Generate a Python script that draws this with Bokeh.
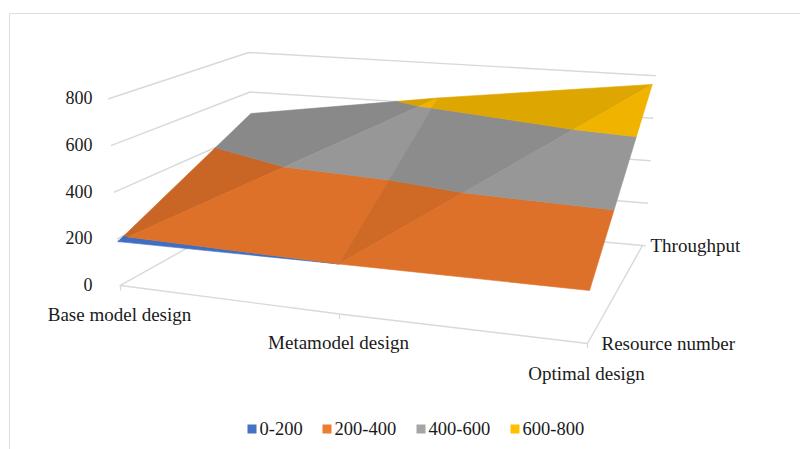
from bokeh.embed import file_html
from bokeh.plotting import figure
from bokeh.resources import INLINE
from bokeh.core.properties import value

# Chart content
categories = ["Base model design", "Metamodel design", "Optimal design"]
series_names = ["Resource number", "Throughput"]
resource_number = [188, 200, 205]
throughput = [491, 630, 758]
z_ticks = [0, 200, 400, 600, 800]
band_labels = ["0-200", "200-400", "400-600", "600-800"]
band_colors = ["#3F6EC2", "#DE7129", "#979797", "#EFB300"]
legend_colors = ["#4472C4", "#ED7D31", "#A5A5A5", "#FFC000"]

# Camera set-up of the pseudo-3D box: floor corners in canvas pixels,
# pixels per 200 units at each corner, and perspective foreshortening.
FLOOR_FRONT = [(120, 285), (339, 313.5), (587, 343)]
FLOOR_BACK = [(254, 210), (436, 226), (642, 245)]
SCALE_FRONT = [46.7, 50, 51.7]
SCALE_BACK = [39.5, 40.8, 42.5]
DEPTH_W = 0.85
VANISH_X = 395
TEXT = "#1A1A1A"
GRID = "#D9D9D9"


def project(c, d, z):
    """Canvas position of grid corner (category c, depth d) at height z."""
    fx, fy = (FLOOR_BACK if d else FLOOR_FRONT)[c]
    s = (SCALE_BACK if d else SCALE_FRONT)[c] / 200
    tilt = (fx - VANISH_X) / 24 / 800
    return fx + tilt * z, fy - s * z


def vertex(c, d, z):
    x, y = project(c, d, z)
    return {"x": x, "y": y, "z": z, "w": 1.0 if d else DEPTH_W}


def between(a, b, t):
    # Perspective-correct interpolation along a triangle edge
    wa, wb = a["w"] * (1 - t), b["w"] * t
    den = wa + wb
    return {
        "x": (wa * a["x"] + wb * b["x"]) / den,
        "y": (wa * a["y"] + wb * b["y"]) / den,
        "z": a["z"] + (b["z"] - a["z"]) * t,
        "w": a["w"] + (b["w"] - a["w"]) * t,
    }


def clip(poly, level, keep_above):
    """Clip a polygon in value space against a horizontal plane."""
    out = []
    for i, a in enumerate(poly):
        b = poly[(i + 1) % len(poly)]
        ina = a["z"] >= level if keep_above else a["z"] <= level
        inb = b["z"] >= level if keep_above else b["z"] <= level
        if ina:
            out.append(a)
        if ina != inb:
            out.append(between(a, b, (level - a["z"]) / (b["z"] - a["z"])))
    return out


def shade(hex_color, f):
    rgb = [int(hex_color[i:i + 2], 16) for i in (1, 3, 5)]
    return "#%02X%02X%02X" % tuple(min(255, round(v * f)) for v in rgb)


p = figure(width=800, height=449, x_range=(0, 800), y_range=(449, 0),
           output_backend="svg", toolbar_location=None, min_border=0,
           x_axis_type=None, y_axis_type=None, outline_line_color=None)
p.grid.visible = False
p.background_fill_color = "white"
p.border_fill_color = "white"

# Chart frame
p.line([9, 9, 800], [449, 13, 13], line_color="#DEDEDE", line_width=1)

# Wall gridlines and floor edges
for z in z_ticks:
    a, b, c = project(0, 0, z), project(0, 1, z), project(2, 1, z)
    p.line([a[0] - 1, b[0], c[0] + 3], [a[1] + 0.3, b[1], c[1] + 0.2],
           line_color=GRID, line_width=1.4)
front = [project(i, 0, 0) for i in range(3)]
right_back = project(2, 1, 0)
p.line([q[0] for q in front], [q[1] for q in front], line_color=GRID, line_width=1.4)
p.line([front[2][0], right_back[0]], [front[2][1], right_back[1]], line_color=GRID, line_width=1.4)
for q in front:
    p.line([q[0], q[0]], [q[1], q[1] + 5], line_color=GRID, line_width=1.2)

# Surface: each panel splits into two flat triangles along its diagonal
heights = [resource_number, throughput]
corner = lambda c, d: vertex(c, d, heights[d][c])
triangles = [
    ([corner(0, 0), corner(0, 1), corner(1, 1)], 0.905),
    ([corner(0, 0), corner(1, 1), corner(1, 0)], 1.00),
    ([corner(1, 0), corner(1, 1), corner(2, 1)], 0.93),
    ([corner(1, 0), corner(2, 1), corner(2, 0)], 1.00),
]
for tri, factor in triangles:
    for k, base in enumerate(band_colors):
        lo, hi = z_ticks[k], z_ticks[k + 1]
        poly = clip(clip(tri, lo, True), hi, False)
        if len(poly) >= 3:
            col = shade(base, factor)
            p.patch([v["x"] for v in poly], [v["y"] for v in poly],
                    fill_color=col, line_color=col, line_width=0.6)

# Value axis labels
font = value("Liberation Serif")
p.text([92] * len(z_ticks), [project(0, 0, z)[1] - 1 for z in z_ticks], text=[str(z) for z in z_ticks],
       text_font=font, text_font_size="18px", text_color=TEXT,
       text_align="right", text_baseline="middle")

# Category labels below the front floor edge
p.text([119, 338, 586], [314, 342, 373], text=categories,
       text_font=font, text_font_size="19px", text_color=TEXT,
       text_align="center", text_baseline="middle")

# Series labels beside the right floor edge
p.text([601, 650], [343, 245], text=series_names,
       text_font=font, text_font_size="19px", text_color=TEXT,
       text_align="left", text_baseline="middle")

# Legend: swatch and label per band
swatch_x = [251.5, 326.5, 420.5, 514.5]
p.scatter(swatch_x, [428.5] * 4, marker="square", size=9, fill_color=legend_colors, line_color=None)
p.text([x + 7.5 for x in swatch_x], [428] * 4, text=band_labels,
       text_font=font, text_font_size="18.5px", text_color=TEXT,
       text_align="left", text_baseline="middle")

open("out.html", "w").write(file_html(p, INLINE))
